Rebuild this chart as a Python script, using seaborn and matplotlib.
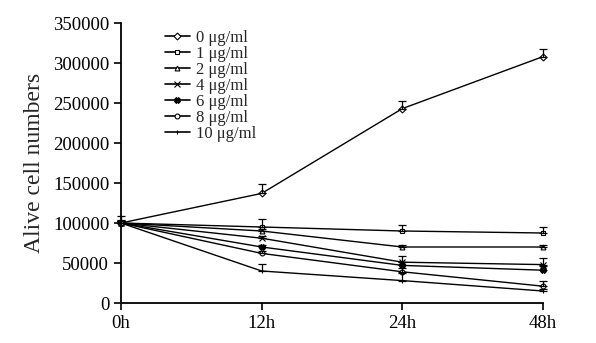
import pandas as pd
import numpy as np
import matplotlib.pyplot as plt
import seaborn as sns

sns.set_style("ticks")
plt.rcParams['font.family'] = ['Liberation Serif', 'DejaVu Serif']

# Datos
tiempos = ['0h', '12h', '24h', '48h']
dosis = ['0 μg/ml', '1 μg/ml', '2 μg/ml', '4 μg/ml', '6 μg/ml', '8 μg/ml', '10 μg/ml']
valores = {
    '0 μg/ml':  [100000, 137000, 243000, 308000],
    '1 μg/ml':  [100000, 95000, 90000, 87500],
    '2 μg/ml':  [100000, 90000, 70000, 70000],
    '4 μg/ml':  [100000, 81000, 51000, 48000],
    '6 μg/ml':  [100000, 70000, 47000, 41000],
    '8 μg/ml':  [100000, 62000, 39000, 21000],
    '10 μg/ml': [100000, 40000, 28000, 15000],
}
errores = {
    '0 μg/ml':  [4000, 12000, 9000, 9000],
    '1 μg/ml':  [3000, 10000, 7000, 8000],
    '2 μg/ml':  [3000, 3000, 2000, 2000],
    '4 μg/ml':  [3000, 3000, 8000, 8000],
    '6 μg/ml':  [3000, 3000, 4000, 5000],
    '8 μg/ml':  [3000, 3000, 5000, 6000],
    '10 μg/ml': [9000, 9000, 10000, 3000],
}
marcadores = {
    '0 μg/ml': 'D', '1 μg/ml': 's', '2 μg/ml': '^', '4 μg/ml': 'x',
    '6 μg/ml': 'X', '8 μg/ml': 'o', '10 μg/ml': '|',
}

filas = []
for d in dosis:
    for i, t in enumerate(tiempos):
        filas.append({'pos': i, 'tiempo': t, 'dosis': d, 'celulas': valores[d][i], 'err': errores[d][i]})
df = pd.DataFrame(filas)

fig = plt.figure(figsize=(5.96, 3.43), dpi=100)
ax = fig.add_axes([121 / 596, 1 - 303 / 343, (543 - 121) / 596, 280 / 343])

for d in dosis:
    sub = df[df['dosis'] == d]
    m = marcadores[d]
    sns.lineplot(data=sub, x='pos', y='celulas', label=d, marker=m, color='black',
                 linewidth=1.0, markersize=3.5 if m not in ('x', 'X') else 4,
                 markerfacecolor='white' if m != 'X' else 'black',
                 markeredgecolor='black', markeredgewidth=0.8, ax=ax)
    ax.errorbar(sub['pos'], sub['celulas'], yerr=[np.zeros(len(sub)), sub['err']],
                fmt='none', ecolor='black', elinewidth=0.9, capsize=3, capthick=0.9)

ax.set_xlim(0, 3)
ax.set_ylim(0, 350000)
ax.set_xticks(range(len(tiempos)))
ax.set_xticklabels(tiempos)
ax.set_yticks(range(0, 350001, 50000))
ax.set_xlabel('')
ax.set_ylabel('Alive cell numbers', fontsize=17, labelpad=6)
ax.tick_params(axis='both', labelsize=13.5, length=5, width=1.2, direction='out', colors='black')
for s in ['left', 'bottom']:
    ax.spines[s].set_linewidth(1.3)
    ax.spines[s].set_color('black')
sns.despine(ax=ax)

leg = ax.legend(loc='upper left', bbox_to_anchor=(0.088, 1.0), frameon=False, fontsize=12,
                handlelength=1.5, labelspacing=0.0, handletextpad=0.35, borderaxespad=0)
for h in leg.legend_handles:
    h.set_linewidth(1.2)

for art in ax.lines + ax.collections:
    art.set_clip_on(False)

plt.savefig('out.png', dpi=100)
